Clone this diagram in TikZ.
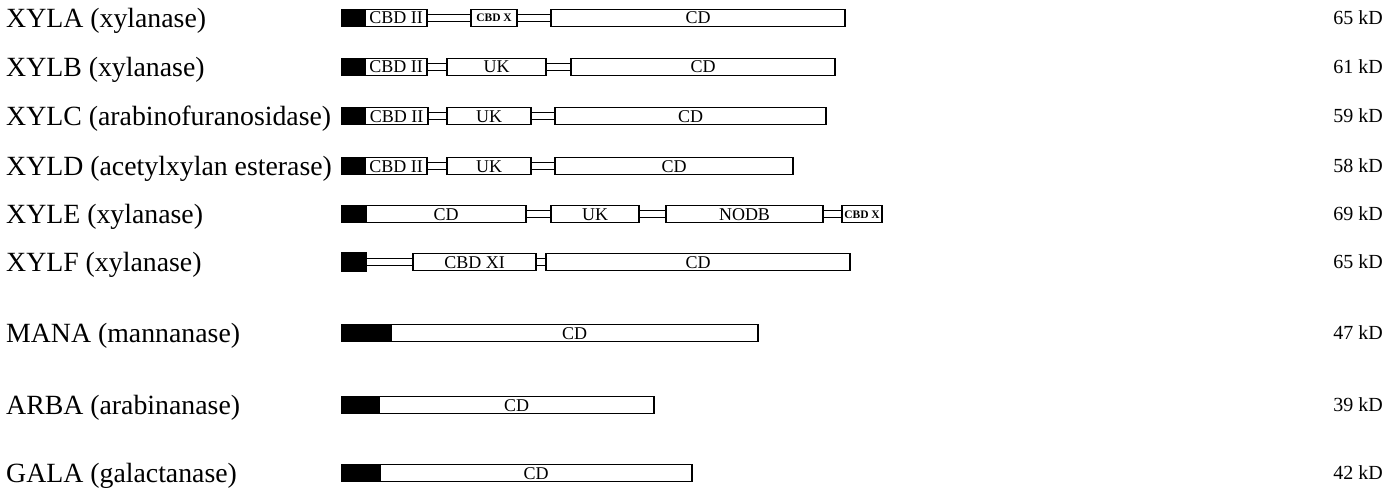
\documentclass[tikz,border=0pt]{standalone}
\usepackage{fontspec}
\setmainfont{Liberation Serif}
\usetikzlibrary{positioning}
\tikzset{
  dom/.style={draw=black,fill=white,line width=1.6pt,outer sep=0pt,inner sep=0pt,
    minimum height=17pt,anchor=west,text height=12pt,text depth=0pt,
    font=\fontsize{18}{18}\selectfont},
  domsm/.style={dom,text height=8pt,font=\fontsize{11.5}{11.5}\selectfont\bfseries},
  sig/.style={dom,fill=black},
  lnk/.style={draw=black,line width=1.2pt,fill=white},
  pname/.style={anchor=west,inner sep=0pt,text height=18.4pt,text depth=0pt,
    font=\fontsize{27.8}{30}\selectfont},
  pmass/.style={anchor=east,inner sep=0pt,text height=13.2pt,text depth=0pt,
    font=\fontsize{20}{22}\selectfont},
}
\begin{document}
\begin{tikzpicture}[x=1pt,y=-1pt]
  \useasboundingbox (0,0) rectangle (1389,495);

  % names and sizes
  \node[pname](aname) at (6,18)  {XYLA (xylanase)};
  \node[pname](bname) at (6,67)  {XYLB (xylanase)};
  \node[pname](cname) at (6,116) {XYLC (arabinofuranosidase)};
  \node[pname](dname) at (6,166) {XYLD (acetylxylan esterase)};
  \node[pname](ename) at (6,214) {XYLE (xylanase)};
  \node[pname](fname) at (6,262) {XYLF (xylanase)};
  \node[pname](mname) at (6,333) {MANA (mannanase)};
  \node[pname](rname) at (6,405) {ARBA (arabinanase)};
  \node[pname](gname) at (6,473) {GALA (galactanase)};

  \node[pmass](amass) at (1383,18)  {65 kD};
  \node[pmass](bmass) at (1383,67)  {61 kD};
  \node[pmass](cmass) at (1383,116) {59 kD};
  \node[pmass](dmass) at (1383,166) {58 kD};
  \node[pmass](emass) at (1383,214) {69 kD};
  \node[pmass](fmass) at (1383,262) {65 kD};
  \node[pmass](mmass) at (1383,333) {47 kD};
  \node[pmass](rmass) at (1383,405) {39 kD};
  \node[pmass](gmass) at (1383,473) {42 kD};

  % XYLA
  \node[sig,minimum width=23pt](asig) at (342,18) {};
  \node[dom,minimum width=62pt,right=0pt of asig](acbd){CBD II};
  \node[domsm,minimum width=46pt,right=44pt of acbd](acbdx){CBD X};
  \node[dom,minimum width=294pt,right=34pt of acbdx](acd){CD};
  \draw[lnk]([yshift=3.5pt]acbd.east) rectangle ([yshift=-3.5pt]acbdx.west);
  \draw[lnk]([yshift=3.5pt]acbdx.east) rectangle ([yshift=-3.5pt]acd.west);

  % XYLB
  \node[sig,minimum width=23pt](bsig) at (342,67) {};
  \node[dom,minimum width=62pt,right=0pt of bsig](bcbd){CBD II};
  \node[dom,minimum width=99pt,right=20pt of bcbd](buk){UK};
  \node[dom,minimum width=264pt,right=25pt of buk](bcd){CD};
  \draw[lnk]([yshift=3.5pt]bcbd.east) rectangle ([yshift=-3.5pt]buk.west);
  \draw[lnk]([yshift=3.5pt]buk.east) rectangle ([yshift=-3.5pt]bcd.west);

  % XYLC
  \node[sig,minimum width=23pt](csig) at (342,116) {};
  \node[dom,minimum width=63pt,right=0pt of csig](ccbd){CBD II};
  \node[dom,minimum width=84pt,right=19pt of ccbd](cuk){UK};
  \node[dom,minimum width=271pt,right=24pt of cuk](ccd){CD};
  \draw[lnk]([yshift=3.5pt]ccbd.east) rectangle ([yshift=-3.5pt]cuk.west);
  \draw[lnk]([yshift=3.5pt]cuk.east) rectangle ([yshift=-3.5pt]ccd.west);

  % XYLD
  \node[sig,minimum width=23pt](dsig) at (342,166) {};
  \node[dom,minimum width=62pt,right=0pt of dsig](dcbd){CBD II};
  \node[dom,minimum width=84pt,right=20pt of dcbd](duk){UK};
  \node[dom,minimum width=238pt,right=24pt of duk](dcd){CD};
  \draw[lnk]([yshift=3.5pt]dcbd.east) rectangle ([yshift=-3.5pt]duk.west);
  \draw[lnk]([yshift=3.5pt]duk.east) rectangle ([yshift=-3.5pt]dcd.west);

  % XYLE
  \node[sig,minimum width=24pt](esig) at (342,214) {};
  \node[dom,minimum width=160pt,right=0pt of esig](ecd){CD};
  \node[dom,minimum width=88pt,right=25pt of ecd](euk){UK};
  \node[dom,minimum width=157pt,right=27pt of euk](enodb){NODB};
  \node[domsm,minimum width=40pt,right=19pt of enodb](ecbdx){CBD X};
  \draw[lnk]([yshift=3.5pt]ecd.east) rectangle ([yshift=-3.5pt]euk.west);
  \draw[lnk]([yshift=3.5pt]euk.east) rectangle ([yshift=-3.5pt]enodb.west);
  \draw[lnk]([yshift=3.5pt]enodb.east) rectangle ([yshift=-3.5pt]ecbdx.west);

  % XYLF
  \node[sig,minimum width=24pt,minimum height=19pt](fsig) at (342,262) {};
  \node[dom,minimum width=123pt,right=47pt of fsig](fcbd){CBD XI};
  \node[dom,minimum width=304pt,right=10pt of fcbd](fcd){CD};
  \draw[lnk]([yshift=3.5pt]fsig.east) rectangle ([yshift=-3.5pt]fcbd.west);
  \draw[lnk]([yshift=3.5pt]fcbd.east) rectangle ([yshift=-3.5pt]fcd.west);

  % MANA, ARBA, GALA
  \node[sig,minimum width=49pt](msig) at (342,333) {};
  \node[dom,minimum width=367pt,right=0pt of msig](mcd){CD};
  \node[sig,minimum width=37pt](rsig) at (342,405) {};
  \node[dom,minimum width=275pt,right=0pt of rsig](rcd){CD};
  \node[sig,minimum width=38pt](gsig) at (342,473) {};
  \node[dom,minimum width=312pt,right=0pt of gsig](gcd){CD};
\end{tikzpicture}
\end{document}
